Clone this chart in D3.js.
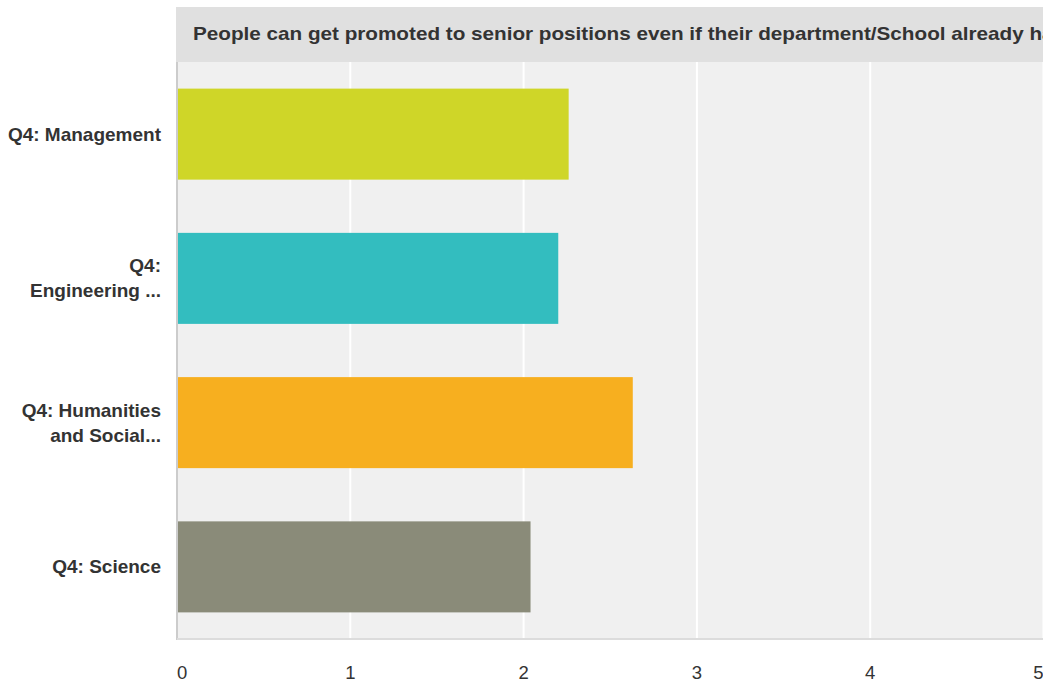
<!DOCTYPE html>
<html>
<head>
<meta charset="utf-8">
<script src="https://cdn.jsdelivr.net/npm/d3@7"></script>
<style>
  html, body { margin: 0; padding: 0; background: #fff; }
  svg { display: block; font-family: "Liberation Sans", Arial, Helvetica, sans-serif; }
</style>
</head>
<body>
<svg id="chart" width="1047" height="683"></svg>
<script>
const title = "People can get promoted to senior positions even if their department/School already has a senior woman";
const categories = ["Q4: Management", "Q4: Engineering ...", "Q4: Humanities and Social...", "Q4: Science"];
const labelLines = [["Q4: Management"], ["Q4:", "Engineering ..."], ["Q4: Humanities", "and Social..."], ["Q4: Science"]];
const values = [2.26, 2.20, 2.63, 2.04];
const colors = ["#cfd628", "#33bdbf", "#f7af1f", "#8a8b79"];
const ticks = [0, 1, 2, 3, 4, 5];

(function () {
const W = 1043, H = 683;
const pL = 177, pR = 1043.5, pT = 62, pB = 639;

const svg = d3.select("#chart");
svg.append("defs").append("clipPath").attr("id", "frame")
  .append("rect").attr("x", 0).attr("y", 0).attr("width", W).attr("height", H);
const g = svg.append("g").attr("clip-path", "url(#frame)");

const x = d3.scaleLinear().domain([0, 5]).range([pL, pR]);
const y = d3.scaleBand().domain(categories).range([pT, pB]).paddingInner(0.369).paddingOuter(0.1845);

// plot background
g.append("rect").attr("x", pL).attr("y", pT).attr("width", W - pL).attr("height", pB - pT).attr("fill", "#f0f0f0");

// gridlines
g.append("g").selectAll("line").data(ticks.slice(1)).join("line")
  .attr("x1", d => x(d)).attr("x2", d => x(d))
  .attr("y1", pT).attr("y2", pB)
  .attr("stroke", "#ffffff").attr("stroke-width", 2);

// bars
g.append("g").selectAll("rect").data(categories).join("rect")
  .attr("x", x(0))
  .attr("y", d => y(d))
  .attr("width", (d, i) => x(values[i]) - x(0))
  .attr("height", y.bandwidth())
  .attr("fill", (d, i) => colors[i]);

// axes lines
g.append("line").attr("x1", pL).attr("x2", pL).attr("y1", pT).attr("y2", pB + 1)
  .attr("stroke", "#cccccc").attr("stroke-width", 2);
g.append("line").attr("x1", pL).attr("x2", W).attr("y1", pB).attr("y2", pB)
  .attr("stroke", "#dcdcdc").attr("stroke-width", 2);

// header
g.append("rect").attr("x", 176).attr("y", 7).attr("width", W - 176).attr("height", pT - 7).attr("fill", "#e0e0e0");
g.append("text")
  .attr("transform", "translate(193,39.5) scale(1.15,1)")
  .attr("font-size", 18).attr("font-weight", "bold").attr("fill", "#333333")
  .text(title);

// category labels
const lab = g.append("g").selectAll("text").data(categories).join("text")
  .attr("text-anchor", "end")
  .attr("font-size", 19).attr("font-weight", "bold").attr("fill", "#333333");
lab.each(function(d, i) {
  const lines = labelLines[i];
  const cy = y(d) + y.bandwidth() / 2;
  const lh = 25;
  const t = d3.select(this);
  lines.forEach((ln, j) => {
    t.append("tspan").attr("x", 161)
      .attr("y", cy + (j - (lines.length - 1) / 2) * lh + 6.5)
      .text(ln);
  });
});

// tick labels
g.append("g").selectAll("text").data(ticks).join("text")
  .attr("x", d => x(d))
  .attr("y", 679)
  .attr("text-anchor", (d, i) => i === 0 ? "start" : (i === ticks.length - 1 ? "end" : "middle"))
  .attr("font-size", 18.5).attr("fill", "#333333")
  .text(d => d);
})();
</script>
</body>
</html>
